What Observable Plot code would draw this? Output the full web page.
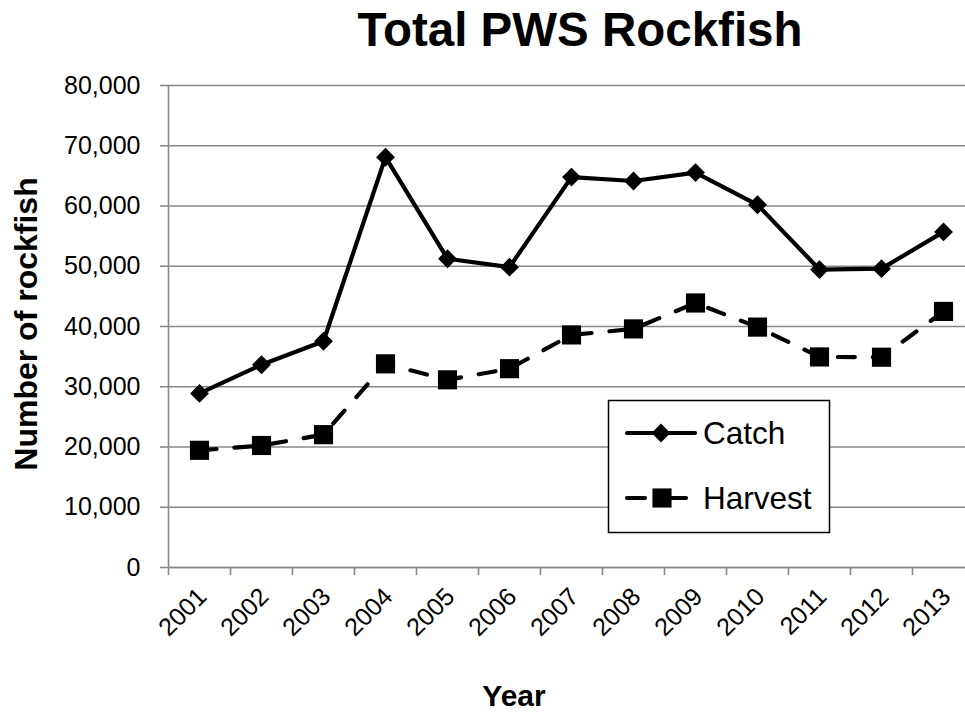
<!DOCTYPE html>
<html><head><meta charset="utf-8">
<script src="https://cdn.jsdelivr.net/npm/d3@7"></script>
<script src="https://cdn.jsdelivr.net/npm/@observablehq/plot@0.6"></script>
<style>
html,body{margin:0;padding:0;background:#fff;overflow:hidden;}
#chart{width:965px;height:713px;overflow:hidden;position:relative;}
</style></head><body><div id="chart"></div>
<script>
const years = [2001,2002,2003,2004,2005,2006,2007,2008,2009,2010,2011,2012,2013];
const catchValues = [28900,33650,37550,68100,51250,49850,64800,64150,65550,60200,49450,49600,55700];
const harvestValues = [19450,20250,22050,33800,31150,33000,38600,39600,43900,39900,34950,34900,42500];
const yTicks = [0,10000,20000,30000,40000,50000,60000,70000,80000];
const seriesNames = ["Catch","Harvest"];
const titleText = "Total PWS Rockfish";
const yLabel = "Number of rockfish";
const xLabel = "Year";

const catchData = years.map((year, i) => ({year, value: catchValues[i]}));
const harvestData = years.map((year, i) => ({year, value: harvestValues[i]}));
const boundaries = [years[0] - 0.5, ...years.map(y => y + 0.5)];

const grid = "#878787";
const font = "'Liberation Sans', Arial, sans-serif";

const chart = Plot.plot({
  width: 975, height: 713,
  marginLeft: 168, marginRight: 1, marginTop: 85, marginBottom: 146,
  style: {fontFamily: font, background: "white", maxWidth: "none", overflow: "visible"},
  x: {type: "linear", domain: [boundaries[0], boundaries[boundaries.length - 1]]},
  y: {domain: [0, 80000]},
  marks: [
    Plot.gridY(yTicks, {stroke: grid, strokeOpacity: 1, strokeWidth: 1.6}),
    Plot.axisY(yTicks, {tickSize: 8, tickPadding: 20, fontSize: 25, stroke: grid, strokeWidth: 1.6, fill: "black", tickFormat: d3.format(","), label: null}),
    Plot.axisX(boundaries, {tickSize: 8, tickFormat: () => "", stroke: grid, strokeWidth: 1.6, label: null}),
    Plot.ruleX([boundaries[0]], {stroke: grid, strokeWidth: 1.6}),
    Plot.ruleY([0], {stroke: grid, strokeWidth: 1.6}),
    Plot.text(years, {x: d => d, frameAnchor: "bottom", rotate: -45, textAnchor: "end", lineAnchor: "middle", dx: 3, dy: 25, fontSize: 25, fill: "black", text: d => String(d)}),
    Plot.line(catchData, {x: "year", y: "value", stroke: "black", strokeWidth: 4.2, strokeLinejoin: "round"}),
    Plot.line(harvestData, {x: "year", y: "value", stroke: "black", strokeWidth: 4.2, strokeDasharray: "17,18", strokeLinecap: "round", strokeLinejoin: "round"}),
    Plot.dot(catchData, {x: "year", y: "value", symbol: "diamond2", r: 8.5, fill: "black", stroke: "none"}),
    Plot.dot(harvestData, {x: "year", y: "value", symbol: "square", r: 10.8, fill: "black", stroke: "none"})
  ]
});

const svg = d3.select(chart);
svg.append("text").attr("x", 580).attr("y", 46).attr("text-anchor", "middle")
  .attr("font-family", font).attr("font-weight", "bold").attr("font-size", 47.5).attr("fill", "black").text(titleText);
svg.append("text").attr("transform", "translate(37,324) rotate(-90)").attr("text-anchor", "middle")
  .attr("font-family", font).attr("font-weight", "bold").attr("font-size", 32).attr("fill", "black").text(yLabel);
svg.append("text").attr("x", 514).attr("y", 706).attr("text-anchor", "middle")
  .attr("font-family", font).attr("font-weight", "bold").attr("font-size", 30).attr("fill", "black").text(xLabel);

// legend
const lg = svg.append("g");
lg.append("rect").attr("x", 608.5).attr("y", 400.5).attr("width", 221).attr("height", 132)
  .attr("fill", "white").attr("stroke", "black").attr("stroke-width", 1.5);
lg.append("line").attr("x1", 627).attr("x2", 695).attr("y1", 433).attr("y2", 433)
  .attr("stroke", "black").attr("stroke-width", 4.2).attr("stroke-linecap", "round");
lg.append("path").attr("d", d3.symbol(d3.symbolDiamond2, Math.PI * 8.5 * 8.5)()).attr("transform", "translate(661,433)").attr("fill", "black");
lg.append("text").attr("x", 703).attr("y", 444).attr("text-anchor", "start").attr("font-family", font).attr("font-size", 31.5).attr("fill", "black").text(seriesNames[0]);
lg.append("line").attr("x1", 627).attr("x2", 645).attr("y1", 498).attr("y2", 498)
  .attr("stroke", "black").attr("stroke-width", 4.2).attr("stroke-linecap", "round");
lg.append("line").attr("x1", 672).attr("x2", 686).attr("y1", 498).attr("y2", 498)
  .attr("stroke", "black").attr("stroke-width", 4.2).attr("stroke-linecap", "round");
lg.append("path").attr("d", d3.symbol(d3.symbolSquare, Math.PI * 10.8 * 10.8)()).attr("transform", "translate(662,498)").attr("fill", "black");
lg.append("text").attr("x", 703).attr("y", 509).attr("text-anchor", "start").attr("font-family", font).attr("font-size", 31.5).attr("fill", "black").text(seriesNames[1]);

document.getElementById("chart").appendChild(chart);
</script></body></html>
